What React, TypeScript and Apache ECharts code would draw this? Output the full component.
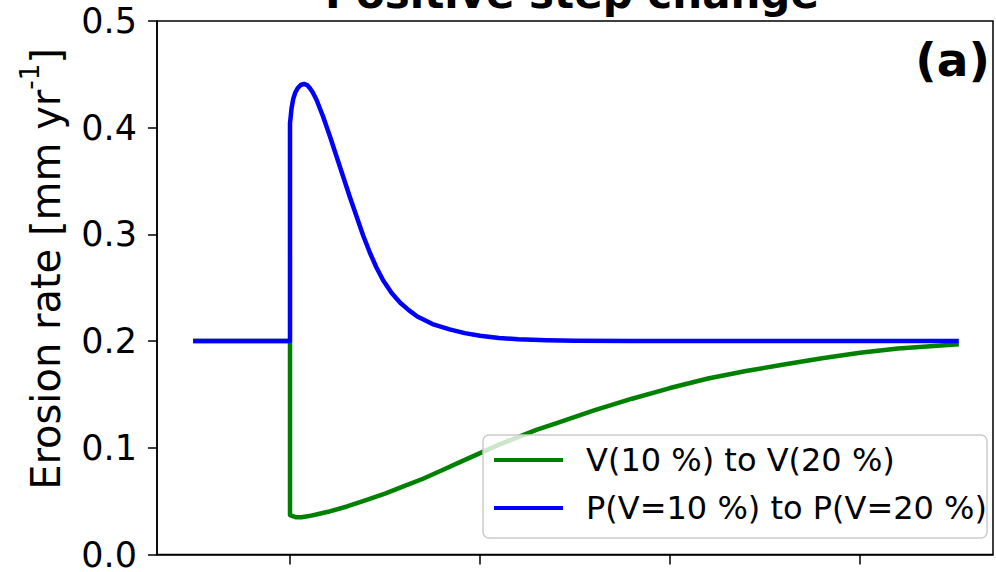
import React, { useEffect, useRef } from "react";
import * as echarts from "echarts";

const titleText = "Positive step change";
const panelLabel = "(a)";
const seriesNames = ["V(10 %) to V(20 %)", "P(V=10 %) to P(V=20 %)"];
const yTicks = [0, 0.1, 0.2, 0.3, 0.4, 0.5];
const xTicks = [0, 1, 2, 3];

const greenX = [-0.51, 0, 0, 0.03, 0.06, 0.1, 0.15, 0.2, 0.3, 0.4, 0.5, 0.6, 0.7, 0.8, 0.9, 1.0, 1.1, 1.2, 1.3, 1.4, 1.5, 1.6, 1.8, 2.0, 2.2, 2.4, 2.6, 2.8, 3.0, 3.2, 3.52];
const greenY = [0.2, 0.2, 0.037, 0.035, 0.035, 0.036, 0.038, 0.04, 0.045, 0.051, 0.057, 0.064, 0.071, 0.079, 0.087, 0.095, 0.103, 0.11, 0.117, 0.123, 0.129, 0.135, 0.146, 0.156, 0.165, 0.172, 0.178, 0.184, 0.189, 0.193, 0.197];

const blueX = [-0.51, 0, 0, 0.008, 0.017, 0.028, 0.04, 0.056, 0.074, 0.09, 0.105, 0.12, 0.14, 0.175, 0.21, 0.245, 0.28, 0.315, 0.35, 0.385, 0.42, 0.455, 0.49, 0.535, 0.58, 0.625, 0.67, 0.75, 0.84, 0.92, 1.0, 1.1, 1.2, 1.35, 1.5, 1.8, 3.52];
const blueY = [0.2, 0.2, 0.404, 0.418, 0.427, 0.433, 0.437, 0.44, 0.441, 0.44, 0.437, 0.433, 0.426, 0.41, 0.392, 0.373, 0.354, 0.335, 0.317, 0.299, 0.283, 0.269, 0.257, 0.245, 0.236, 0.229, 0.223, 0.216, 0.211, 0.2075, 0.205, 0.203, 0.2018, 0.2008, 0.2003, 0.2, 0.2];

const FONT = "DejaVu Sans";

export default function App() {
  const ref = useRef<HTMLDivElement>(null);
  useEffect(() => {
    if (!ref.current) return;
    const chart = echarts.init(ref.current, null, { renderer: "svg" });
    const green = greenX.map((x, i) => [x, greenY[i]]);
    const blue = blueX.map((x, i) => [x, blueY[i]]);
    chart.setOption({
      animation: false,
      backgroundColor: "#ffffff",
      grid: {
        left: 157,
        right: 3,
        top: 21,
        bottom: 17,
        show: true,
        borderColor: "#000",
        borderWidth: 1.5,
        backgroundColor: "transparent",
      },
      xAxis: {
        type: "value",
        min: -0.7,
        max: 3.7,
        axisLine: { show: true, onZero: false, lineStyle: { color: "#000", width: 1.5 } },
        axisTick: { show: true, length: 10, customValues: xTicks, lineStyle: { color: "#000", width: 1.5 } },
        axisLabel: { show: false },
        splitLine: { show: false },
      },
      yAxis: {
        type: "value",
        min: yTicks[0],
        max: yTicks[yTicks.length - 1],
        interval: 0.1,
        axisLine: { show: true, onZero: false, lineStyle: { color: "#000", width: 1.5 } },
        axisTick: { show: true, length: 9, lineStyle: { color: "#000", width: 1.5 } },
        axisLabel: {
          show: true,
          margin: 20,
          fontSize: 35,
          fontFamily: FONT,
          color: "#000",
          formatter: (v: number) => v.toFixed(1),
        },
        splitLine: { show: false },
      },
      legend: {
        left: 483,
        top: 435,
        orient: "vertical",
        icon: "rect",
        itemWidth: 69,
        itemHeight: 4,
        itemGap: 12,
        padding: [7, 0, 12, 11],
        backgroundColor: "rgba(255,255,255,0.8)",
        borderColor: "#cccccc",
        borderWidth: 1.5,
        borderRadius: 6,
        textStyle: {
          fontSize: 32,
          lineHeight: 36,
          fontFamily: FONT,
          color: "#000",
          padding: [0, 0, 0, 18],
        },
        data: seriesNames,
      },
      graphic: [
        {
          type: "text",
          x: 572,
          y: -7,
          style: {
            text: titleText,
            font: `bold 42px "${FONT}"`,
            fill: "#000",
            textAlign: "center",
            textVerticalAlign: "middle",
          },
        },
        {
          type: "text",
          x: 990,
          y: 59,
          z: 10,
          style: {
            text: panelLabel,
            font: `bold 47px "${FONT}"`,
            fill: "#000",
            textAlign: "right",
            textVerticalAlign: "middle",
          },
        },
        {
          type: "text",
          x: 46,
          y: 269,
          rotation: Math.PI / 2,
          style: {
            text: "{a|Erosion rate [mm yr}{b|-1}{a|]}",
            align: "center",
            verticalAlign: "middle",
            rich: {
              a: { fontSize: 40, fontFamily: FONT, fill: "#000", lineHeight: 58 },
              b: { fontSize: 26, fontFamily: FONT, fill: "#000", lineHeight: 24, verticalAlign: "top" },
            },
          },
        },
      ],
      series: [
        {
          name: seriesNames[0],
          type: "line",
          data: green,
          symbol: "none",
          lineStyle: { color: "#008000", width: 4.5, join: "round" },
          itemStyle: { color: "#008000" },
          z: 2,
        },
        {
          name: seriesNames[1],
          type: "line",
          data: blue,
          symbol: "none",
          lineStyle: { color: "#0000ff", width: 4.5, join: "round" },
          itemStyle: { color: "#0000ff" },
          z: 3,
        },
      ],
    });
    return () => chart.dispose();
  }, []);
  return <div ref={ref} style={{ position: "fixed", left: 0, top: 0, width: 996, height: 572 }} />;
}
